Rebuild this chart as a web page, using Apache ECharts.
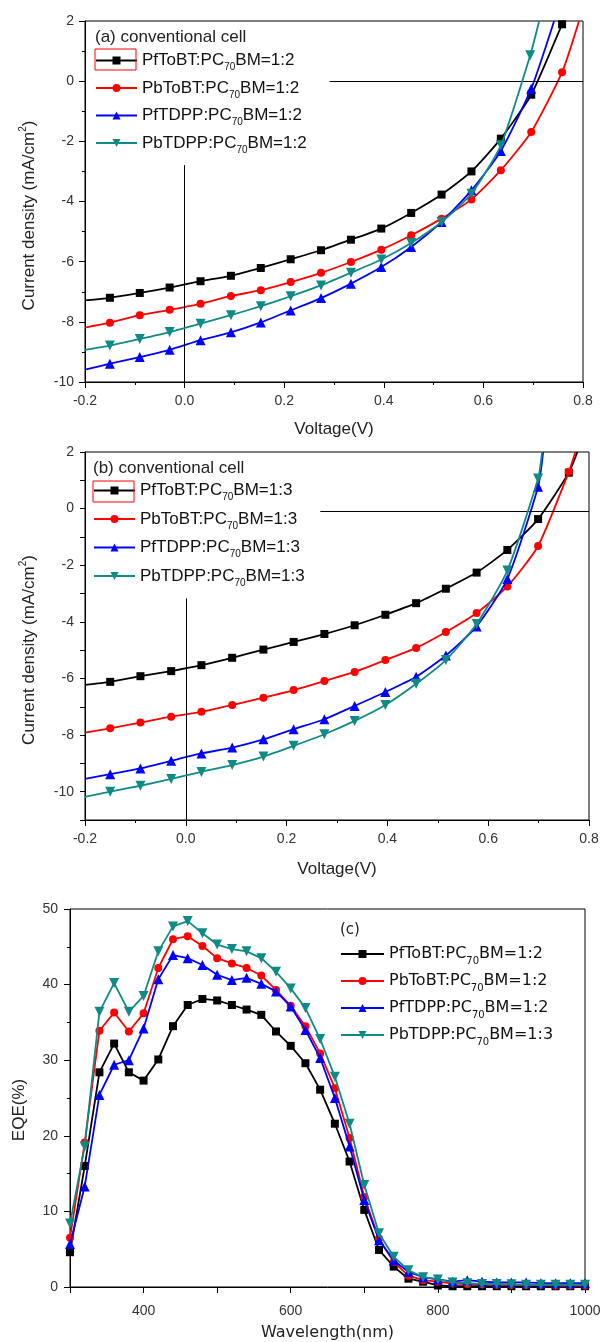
<!DOCTYPE html>
<html>
<head>
<meta charset="utf-8">
<script src="https://cdn.jsdelivr.net/npm/echarts@6/dist/echarts.min.js"></script>
<style>html,body{margin:0;padding:0;background:#fff}#c{width:600px;height:1342px}</style>
</head>
<body>
<div id="c"></div>
<script>
// ---------- Panel (a): J-V, ratio 1:2 ----------
const namesA = ['PfToBT:PC70BM=1:2', 'PbToBT:PC70BM=1:2', 'PfTDPP:PC70BM=1:2', 'PbTDPP:PC70BM=1:2'];
const vA_PfToBT = [-0.2, -0.15, -0.09, -0.03, 0.032, 0.093, 0.153, 0.213, 0.274, 0.334, 0.395, 0.455, 0.516, 0.576, 0.635, 0.696, 0.758, 0.762];
const jA_PfToBT = [-7.29, -7.2, -7.04, -6.86, -6.65, -6.47, -6.21, -5.92, -5.62, -5.27, -4.90, -4.38, -3.77, -3.0, -1.91, -0.45, 1.89, 2];
const vA_PbToBT = [-0.2, -0.15, -0.09, -0.03, 0.032, 0.093, 0.153, 0.213, 0.274, 0.334, 0.395, 0.455, 0.516, 0.576, 0.635, 0.696, 0.758, 0.792];
const jA_PbToBT = [-8.19, -8.03, -7.78, -7.6, -7.4, -7.14, -6.95, -6.68, -6.37, -6.01, -5.6, -5.12, -4.57, -3.93, -2.96, -1.69, 0.30, 2];
const vA_PfTDPP = [-0.2, -0.15, -0.09, -0.03, 0.032, 0.093, 0.153, 0.213, 0.274, 0.334, 0.395, 0.455, 0.516, 0.576, 0.635, 0.696, 0.742];
const jA_PfTDPP = [-9.59, -9.39, -9.17, -8.93, -8.61, -8.35, -8.02, -7.62, -7.21, -6.73, -6.18, -5.51, -4.68, -3.63, -2.32, -0.25, 2];
const vA_PbTDPP = [-0.2, -0.15, -0.09, -0.03, 0.032, 0.093, 0.153, 0.213, 0.274, 0.334, 0.395, 0.455, 0.516, 0.576, 0.635, 0.694, 0.712];
const jA_PbTDPP = [-8.93, -8.79, -8.57, -8.34, -8.06, -7.78, -7.48, -7.15, -6.79, -6.37, -5.93, -5.38, -4.68, -3.74, -2.13, 0.86, 2];

// ---------- Panel (b): J-V, ratio 1:3 ----------
const namesB = ['PfToBT:PC70BM=1:3', 'PbToBT:PC70BM=1:3', 'PfTDPP:PC70BM=1:3', 'PbTDPP:PC70BM=1:3'];
const vB_PfToBT = [-0.2, -0.15, -0.09, -0.029, 0.031, 0.092, 0.154, 0.214, 0.275, 0.335, 0.396, 0.457, 0.516, 0.577, 0.638, 0.699, 0.76, 0.777];
const jB_PfToBT = [-6.23, -6.12, -5.92, -5.74, -5.53, -5.27, -4.98, -4.71, -4.43, -4.12, -3.75, -3.34, -2.83, -2.26, -1.46, -0.37, 1.27, 2];
const vB_PbToBT = [-0.2, -0.15, -0.09, -0.029, 0.031, 0.092, 0.154, 0.214, 0.275, 0.335, 0.396, 0.457, 0.516, 0.577, 0.638, 0.699, 0.76, 0.773];
const jB_PbToBT = [-7.91, -7.76, -7.56, -7.35, -7.18, -6.94, -6.68, -6.41, -6.09, -5.77, -5.35, -4.92, -4.36, -3.69, -2.75, -1.32, 1.30, 2];
const vB_PfTDPP = [-0.2, -0.15, -0.09, -0.029, 0.031, 0.092, 0.154, 0.214, 0.275, 0.335, 0.396, 0.457, 0.516, 0.577, 0.638, 0.699, 0.709];
const jB_PfTDPP = [-9.55, -9.38, -9.18, -8.91, -8.65, -8.44, -8.15, -7.79, -7.44, -6.97, -6.48, -5.94, -5.19, -4.16, -2.49, 0.77, 2];
const vB_PbTDPP = [-0.2, -0.15, -0.09, -0.029, 0.031, 0.092, 0.154, 0.214, 0.275, 0.335, 0.396, 0.457, 0.516, 0.577, 0.638, 0.699, 0.707];
const jB_PbTDPP = [-10.18, -10.0, -9.79, -9.55, -9.30, -9.06, -8.76, -8.38, -7.97, -7.5, -6.94, -6.19, -5.35, -4.08, -2.19, 1.06, 2];

// ---------- Panel (c): EQE ----------
const namesC = ['PfToBT:PC70BM=1:2', 'PbToBT:PC70BM=1:2', 'PfTDPP:PC70BM=1:2', 'PbTDPP:PC70BM=1:3'];
const wl = [300, 320, 340, 360, 380, 400, 420, 440, 460, 480, 500, 520, 540, 560, 580, 600, 620, 640, 660, 680, 700, 720, 740, 760, 780, 800, 820, 840, 860, 880, 900, 920, 940, 960, 980, 1000];
const eqe_PfToBT = [4.6, 16, 28.4, 32.2, 28.4, 27.3, 30.1, 34.5, 37.3, 38.1, 37.9, 37.3, 36.7, 36.0, 33.8, 31.9, 29.6, 26.1, 21.6, 16.6, 10.2, 4.9, 2.7, 1.1, 0.7, 0.2, 0.1, 0.1, 0.1, 0.1, 0.1, 0.1, 0.1, 0.1, 0.1, 0.1];
const eqe_PbToBT = [6.5, 19.1, 33.9, 36.3, 33.8, 36.2, 42.2, 46.0, 46.4, 45.1, 43.5, 42.8, 42.2, 41.2, 39.3, 37.2, 34.5, 30.9, 26.3, 19.7, 11.9, 6.4, 3.3, 1.5, 0.9, 0.7, 0.45, 0.4, 0.35, 0.3, 0.3, 0.25, 0.25, 0.2, 0.2, 0.2];
const eqe_PfTDPP = [5.7, 13.3, 25.4, 29.4, 30.0, 34.2, 40.7, 43.9, 43.5, 42.6, 41.3, 40.6, 40.9, 40.1, 39.1, 37.1, 34.0, 30.3, 25.0, 18.6, 11.5, 6.2, 3.5, 2.0, 1.3, 1.0, 0.7, 0.9, 0.7, 0.6, 0.6, 0.6, 0.5, 0.5, 0.5, 0.5];
const eqe_PbTDPP = [8.4, 18.6, 36.4, 40.2, 36.4, 38.5, 44.4, 47.7, 48.4, 46.8, 45.3, 44.7, 44.4, 43.5, 41.7, 39.5, 36.9, 32.8, 27.8, 21.6, 13.5, 7.1, 4.0, 2.2, 1.3, 1.0, 0.6, 0.5, 0.4, 0.4, 0.35, 0.3, 0.3, 0.3, 0.3, 0.3];

// tick labels
const xTicksJV = [-0.2, 0.0, 0.2, 0.4, 0.6, 0.8];
const xTicksEQE = [400, 600, 800, 1000];

// ---------- styling ----------
const FONT = '"Liberation Sans", Arial, sans-serif';
const FONT_C = '"DejaVu Sans", "Liberation Sans", sans-serif';
const COLORS = ['#000000', '#ff0000', '#0000ff', '#0f8a84'];
const SYMBOLS = ['rect', 'circle', 'triangle', 'path://M0,0L10,0L5,9Z'];
const SIZES = [8, 8, 10, 10];

function jvSeries(name, xs, ys, k, gi) {
  const data = xs.map((x, i) => {
    const it = { value: [x, ys[i]] };
    if (i === 0 || i === xs.length - 1) it.symbol = 'none';
    return it;
  });
  return {
    type: 'line', name, xAxisIndex: gi, yAxisIndex: gi, data,
    smooth: 0.2,
    symbol: SYMBOLS[k], symbolSize: SIZES[k], showSymbol: true,
    lineStyle: { color: COLORS[k], width: 1.8 },
    itemStyle: { color: COLORS[k], borderWidth: 0 },
    z: 2 + k, animation: false, silent: true
  };
}
function eqeSeries(name, ys, k) {
  return {
    type: 'line', name, xAxisIndex: 2, yAxisIndex: 2,
    data: wl.map((w, i) => [w, ys[i]]),
    symbol: SYMBOLS[k], symbolSize: SIZES[k], showSymbol: true,
    lineStyle: { color: COLORS[k], width: 1.8 },
    itemStyle: { color: COLORS[k], borderWidth: 0 },
    z: 2 + k, animation: false, silent: true
  };
}

function richName(name) {
  const i = name.indexOf('70');
  return '{m|' + name.slice(0, i) + '}{s|70}{m|' + name.slice(i + 2) + '}';
}
function legendRich(fs, family) {
  return {
    m: { fontSize: fs, fontFamily: family, color: '#111', lineHeight: 24 },
    s: { fontSize: 10, fontFamily: family, color: '#111', lineHeight: 11, verticalAlign: 'bottom' }
  };
}

const axisLineStyle = { color: '#000', width: 1 };
const labelStyle = { color: '#333', fontSize: 14, fontFamily: FONT };

function baseAxis(extra) {
  return Object.assign({
    type: 'value',
    axisLine: { show: true, onZero: false, lineStyle: axisLineStyle },
    axisTick: { show: true, inside: false, length: 6, lineStyle: axisLineStyle },
    splitLine: { show: false },
    minorSplitLine: { show: false }
  }, extra);
}

const jvYName = '{n|Current density (mA/cm}{sup|2}{n|)}';
const yNameStyle = {
  fontSize: 17, fontFamily: FONT, color: '#222', padding: [0, 28, 0, 0],
  rich: {
    n: { fontSize: 17, fontFamily: FONT, color: '#222', lineHeight: 22 },
    sup: { fontSize: 10, fontFamily: FONT, color: '#222', lineHeight: 10, verticalAlign: 'top' }
  }
};

const option = {
  animation: false,
  backgroundColor: '#fff',
  grid: [
    { left: 85, top: 21, width: 498, height: 361, show: true, borderColor: '#000', borderWidth: 1, backgroundColor: 'transparent', containLabel: false, outerBoundsMode: 'none' },
    { left: 85, top: 452, width: 504, height: 368, show: true, borderColor: '#000', borderWidth: 1, backgroundColor: 'transparent', containLabel: false, outerBoundsMode: 'none' },
    { left: 70, top: 909, width: 515, height: 378, show: true, borderColor: '#000', borderWidth: 1, backgroundColor: 'transparent', containLabel: false, outerBoundsMode: 'none' }
  ],
  xAxis: [
    baseAxis({
      gridIndex: 0, min: -0.2, max: 0.8, interval: 0.2,
      minorTick: { show: true, splitNumber: 2, length: 3, lineStyle: axisLineStyle },
      axisLabel: Object.assign({ margin: 12, formatter: v => { const t = xTicksJV.find(q => Math.abs(q - v) < 1e-6); return t === undefined ? '' : t.toFixed(1); } }, labelStyle),
      name: 'Voltage(V)', nameLocation: 'middle', nameGap: 39,
      nameTextStyle: { fontSize: 17, fontFamily: FONT, color: '#222' }
    }),
    baseAxis({
      gridIndex: 1, min: -0.2, max: 0.8, interval: 0.2,
      minorTick: { show: true, splitNumber: 2, length: 3, lineStyle: axisLineStyle },
      axisLabel: Object.assign({ margin: 12, formatter: v => { const t = xTicksJV.find(q => Math.abs(q - v) < 1e-6); return t === undefined ? '' : t.toFixed(1); } }, labelStyle),
      name: 'Voltage(V)', nameLocation: 'middle', nameGap: 41,
      nameTextStyle: { fontSize: 17, fontFamily: FONT, color: '#222' }
    }),
    baseAxis({
      gridIndex: 2, min: 300, max: 1000, interval: 100,
      axisLabel: Object.assign({ margin: 17, formatter: v => (xTicksEQE.indexOf(Math.round(v)) >= 0 ? String(Math.round(v)) : '') }, labelStyle),
      name: 'Wavelength(nm)', nameLocation: 'middle', nameGap: 38,
      nameTextStyle: { fontSize: 16, fontFamily: FONT_C, color: '#222' }
    })
  ],
  yAxis: [
    baseAxis({
      gridIndex: 0, min: -10, max: 2, interval: 2,
      minorTick: { show: true, splitNumber: 2, length: 3, lineStyle: axisLineStyle },
      axisLabel: Object.assign({ margin: 11, formatter: v => String(Math.round(v)) }, labelStyle),
      name: jvYName, nameLocation: 'middle', nameGap: 45, nameTextStyle: yNameStyle
    }),
    baseAxis({
      gridIndex: 1, min: -11, max: 2, interval: 1,
      axisTick: { show: true, inside: false, length: 5, lineStyle: axisLineStyle },
      axisLabel: Object.assign({ margin: 11, formatter: v => { const r = Math.round(v); return r % 2 === 0 ? String(r) : ''; } }, labelStyle),
      name: jvYName, nameLocation: 'middle', nameGap: 45, nameTextStyle: yNameStyle
    }),
    baseAxis({
      gridIndex: 2, min: 0, max: 50, interval: 10,
      minorTick: { show: true, splitNumber: 2, length: 3, lineStyle: axisLineStyle },
      axisLabel: Object.assign({ margin: 12, formatter: v => String(Math.round(v)) }, labelStyle),
      name: 'EQE(%)', nameLocation: 'middle', nameGap: 42,
      nameTextStyle: { fontSize: 17, fontFamily: FONT, color: '#222', padding: [0, 24, 0, 0] }
    })
  ],
  legend: [
    {
      orient: 'vertical', left: 95, top: 52, padding: 0, itemWidth: 41, itemHeight: 10, itemGap: 7,
      data: namesA, selectedMode: false, formatter: richName,
      textStyle: { fontSize: 17, fontFamily: FONT, color: '#111', rich: legendRich(17, FONT) }
    },
    {
      orient: 'vertical', left: 93, top: 482, padding: 0, itemWidth: 41, itemHeight: 10, itemGap: 8,
      data: namesB, selectedMode: false, formatter: richName,
      textStyle: { fontSize: 17, fontFamily: FONT, color: '#111', rich: legendRich(17, FONT) }
    },
    {
      orient: 'vertical', left: 340, top: 946, padding: 0, itemWidth: 43, itemHeight: 10, itemGap: 7,
      data: namesC, selectedMode: false, formatter: richName,
      textStyle: { fontSize: 16, fontFamily: FONT_C, color: '#111', rich: legendRich(16, FONT_C) }
    }
  ],
  graphic: [
    { type: 'text', z: 100, style: { x: 95, y: 37, text: '(a) conventional cell', fontSize: 17, fontFamily: FONT, fill: '#222', verticalAlign: 'middle' } },
    { type: 'text', z: 100, style: { x: 93, y: 468, text: '(b) conventional cell', fontSize: 17, fontFamily: FONT, fill: '#222', verticalAlign: 'middle' } },
    { type: 'text', z: 100, style: { x: 340, y: 930, text: '(c)', fontSize: 15, fontFamily: FONT_C, fill: '#222', verticalAlign: 'middle' } },
    { type: 'rect', z: 100, shape: { x: 95, y: 49, width: 41, height: 21 }, style: { fill: 'none', stroke: '#ff0000', lineWidth: 1 } },
    { type: 'rect', z: 100, shape: { x: 93, y: 481, width: 41, height: 21 }, style: { fill: 'none', stroke: '#ff0000', lineWidth: 1 } }
  ],
  series: [
    Object.assign(jvSeries(namesA[0], vA_PfToBT, jA_PfToBT, 0, 0), {
      markLine: {
        silent: true, symbol: ['none', 'none'], label: { show: false }, animation: false,
        lineStyle: { color: '#000', width: 1, type: 'solid' },
        data: [
          [{ coord: [0.291, 0] }, { coord: [0.8, 0] }],
          [{ coord: [0, -2.79] }, { coord: [0, -10] }]
        ]
      }
    }),
    jvSeries(namesA[1], vA_PbToBT, jA_PbToBT, 1, 0),
    jvSeries(namesA[2], vA_PfTDPP, jA_PfTDPP, 2, 0),
    jvSeries(namesA[3], vA_PbTDPP, jA_PbTDPP, 3, 0),
    Object.assign(jvSeries(namesB[0], vB_PfToBT, jB_PfToBT, 0, 1), {
      markLine: {
        silent: true, symbol: ['none', 'none'], label: { show: false }, animation: false,
        lineStyle: { color: '#000', width: 1, type: 'solid' },
        data: [
          [{ coord: [0.267, -0.08] }, { coord: [0.8, -0.08] }],
          [{ coord: [0, -3.17] }, { coord: [0, -11] }]
        ]
      }
    }),
    jvSeries(namesB[1], vB_PbToBT, jB_PbToBT, 1, 1),
    jvSeries(namesB[2], vB_PfTDPP, jB_PfTDPP, 2, 1),
    jvSeries(namesB[3], vB_PbTDPP, jB_PbTDPP, 3, 1),
    eqeSeries(namesC[0], eqe_PfToBT, 0),
    eqeSeries(namesC[1], eqe_PbToBT, 1),
    eqeSeries(namesC[2], eqe_PfTDPP, 2),
    eqeSeries(namesC[3], eqe_PbTDPP, 3)
  ]
};

const chart = echarts.init(document.getElementById('c'), null, { renderer: 'canvas' });
chart.setOption(option);
</script>
</body>
</html>
